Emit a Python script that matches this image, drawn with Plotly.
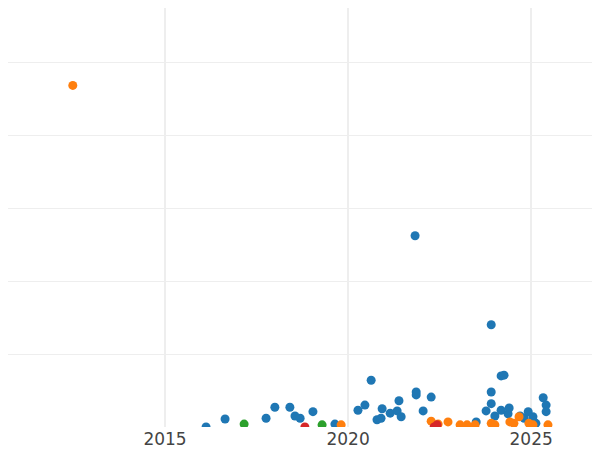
import plotly.graph_objects as go

blue_x = [2016.12, 2016.64, 2017.76, 2018.0, 2018.41, 2018.55, 2018.69, 2019.04, 2019.64, 2020.27,
          2020.46, 2020.63, 2020.79, 2020.90, 2020.93, 2021.15, 2021.34, 2021.39, 2021.45, 2021.83,
          2021.86, 2021.86, 2022.05, 2022.27, 2023.50, 2023.77, 2023.91, 2023.91, 2023.91, 2024.01,
          2024.18, 2024.18, 2024.26, 2024.37, 2024.40, 2024.70, 2024.81, 2024.92, 2025.05, 2025.13,
          2025.33, 2025.41, 2025.41]
blue_y = [0.0, 0.11, 0.12, 0.27, 0.27, 0.15, 0.12, 0.21, 0.04, 0.23,
          0.30, 0.64, 0.10, 0.12, 0.25, 0.19, 0.22, 0.36, 0.14, 2.62,
          0.48, 0.44, 0.22, 0.41, 0.07, 0.22, 1.40, 0.48, 0.32, 0.15,
          0.70, 0.23, 0.71, 0.18, 0.26, 0.15, 0.12, 0.21, 0.14, 0.05,
          0.40, 0.30, 0.21]
orange_x = [2012.48, 2019.81, 2022.27, 2022.46, 2022.73, 2023.06, 2023.25, 2023.47, 2023.91, 2024.01,
            2024.42, 2024.53, 2024.67, 2024.94, 2025.05, 2025.46]
orange_y = [4.68, 0.03, 0.08, 0.04, 0.07, 0.03, 0.03, 0.03, 0.05, 0.03,
            0.07, 0.05, 0.14, 0.05, 0.03, 0.03]
green_x = [2017.16, 2019.29]
green_y = [0.04, 0.03]
red_x = [2018.82, 2022.35, 2022.43]
red_y = [0.0, 0.0, 0.03]

fig = go.Figure()
for xs, ys, c in [(blue_x, blue_y, "#1f77b4"), (orange_x, orange_y, "#ff7f0e"),
                  (green_x, green_y, "#2ca02c"), (red_x, red_y, "#d62728")]:
    fig.add_trace(go.Scatter(x=xs, y=ys, mode="markers", marker=dict(color=c, size=9),
                             cliponaxis=True))

# the page has an 8px body margin, so the axes are shifted to line up with the reference
fig.update_layout(
    width=600, height=450, showlegend=False,
    margin=dict(l=0, r=0, t=0, b=31),
    plot_bgcolor="white", paper_bgcolor="white",
    font=dict(family="DejaVu Sans", size=17, color="#444"),
    xaxis=dict(range=[2010.71, 2027.10], tickvals=[2015, 2020, 2025], gridcolor="#eee",
               gridwidth=2, showline=False, zeroline=False, ticks=""),
    yaxis=dict(range=[0, 5.74], dtick=1, gridcolor="#eee", gridwidth=1,
               showticklabels=False, zeroline=False),
)
fig.write_html("out.html")
